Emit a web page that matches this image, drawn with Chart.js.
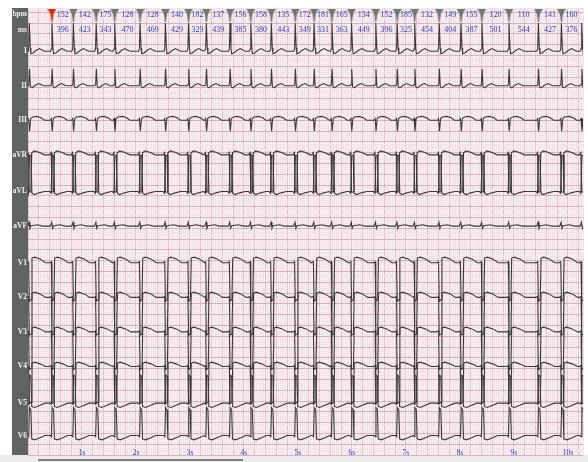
<!DOCTYPE html>
<html>
<head>
<meta charset="utf-8">
<script src="https://cdn.jsdelivr.net/npm/chart.js@4.4.1/dist/chart.umd.min.js"></script>
<style>
html,body{margin:0;padding:0;background:#fff;}
canvas{display:block;}
</style>
</head>
<body>
<canvas id="ecg" width="588" height="462"></canvas>
<script>
// heart rate and RR interval shown between the beat markers
var bpm  = [152,142,175,128,128,140,182,137,156,158,135,172,181,165,134,152,185,132,149,155,120,110,141,160];
var rrMs = [396,423,343,470,469,429,329,439,385,380,443,349,331,363,449,396,325,454,404,387,501,544,427,376];
var firstMarkSec = 0.444;   // first (red) marker
var beatBeforeMs = 420;     // unlabelled beat at the left edge
var stripSec = 10.28;

var leadNames = ['I','II','III','aVR','aVL','aVF','V1','V2','V3','V4','V5','V6'];

// one complex per lead: [seconds from R, mV]
var cxI   = [[-0.03,0],[-0.012,0.1],[0,1.3],[0.018,0.15],[0.03,-0.12],[0.07,-0.08],[0.13,0.04],[0.19,0.12],[0.25,0.03],[0.29,0]];
var cxII  = [[-0.03,0],[-0.01,0.05],[0.003,0.78],[0.02,-0.05],[0.05,-0.1],[0.11,0.02],[0.18,0.1],[0.26,0]];
var cxIII = [[-0.03,0],[-0.012,0.08],[0.005,-0.5],[0.025,0.08],[0.06,0.15],[0.14,0.18],[0.22,0.12],[0.28,0]];
var cxAVR = [[-0.04,0],[-0.015,0.1],[0,-1.72],[0.03,-1.72],[0.045,0.1],[0.09,0.18],[0.18,0.12],[0.28,0]];
var cxAVL = [[-0.04,0],[-0.015,-0.08],[0.003,1.68],[0.03,1.68],[0.048,-0.08],[0.09,-0.14],[0.18,-0.06],[0.28,0]];
var cxAVF = [[-0.03,0],[-0.005,0.18],[0.012,-0.1],[0.03,0.02],[0.15,0.06],[0.25,0]];
var cxV1  = [[-0.04,0],[-0.012,0.05],[0,-1.78],[0.035,-1.7],[0.05,0.22],[0.1,0.26],[0.2,0.18],[0.3,0]];
var cxV2  = [[-0.04,0],[-0.012,0.05],[0,-1.75],[0.035,-1.7],[0.05,0.2],[0.1,0.24],[0.2,0.16],[0.3,0]];
var cxV3  = [[-0.04,0],[-0.012,0.05],[0,-1.75],[0.035,-1.68],[0.05,0.18],[0.1,0.22],[0.2,0.14],[0.3,0]];
var cxV4  = [[-0.04,0],[-0.012,0.05],[0,-1.72],[0.035,-1.65],[0.05,0.15],[0.1,0.2],[0.2,0.12],[0.3,0]];
var cxV5  = [[-0.03,0],[-0.01,-0.05],[0.003,1.3],[0.03,1.25],[0.045,-0.15],[0.1,-0.2],[0.2,-0.1],[0.29,0]];
var cxV6  = [[-0.03,0],[-0.01,-0.05],[0.003,1.3],[0.03,1.2],[0.045,-0.15],[0.1,-0.2],[0.2,-0.1],[0.29,0]];
var complexes = [cxI,cxII,cxIII,cxAVR,cxAVL,cxAVF,cxV1,cxV2,cxV3,cxV4,cxV5,cxV6];

// layout: row of each lead on the mV axis
var rowMv = [18.7,17.1,15.5,13.9,12.2,10.6,8.9,7.3,5.7,4.1,2.4,0.9];
var bpmRow = 20.4, msRow = 19.7, markRow = 20.35;

// beat times
var marks = [firstMarkSec];
for (var i = 0; i < rrMs.length - 1; i++) marks.push(marks[i] + rrMs[i] / 1000);
var beats = [firstMarkSec - beatBeforeMs / 1000].concat(marks, [marks[marks.length - 1] + rrMs[rrMs.length - 1] / 1000]);

function buildLead(k) {
  var pts = [{x: 0, y: rowMv[k]}];
  beats.forEach(function(b) {
    complexes[k].forEach(function(p) {
      var x = b + p[0];
      if (x > pts[pts.length - 1].x) pts.push({x: x, y: rowMv[k] + p[1]});
    });
  });
  pts.push({x: stripSec, y: rowMv[k]});
  return pts;
}

function markerImage(col) {
  var c = document.createElement('canvas');
  c.width = 9; c.height = 13;
  var g = c.getContext('2d');
  g.fillStyle = col;
  g.beginPath();
  g.moveTo(0, 0); g.lineTo(9, 0);
  g.quadraticCurveTo(5.6, 3, 5.1, 13);
  g.lineTo(3.9, 13);
  g.quadraticCurveTo(3.4, 3, 0, 0);
  g.fill();
  return c;
}
var grayMark = markerImage('#6e7874');
var redMark = markerImage('#d1320e');

var datasets = leadNames.map(function(n, k) {
  return {
    label: n,
    data: buildLead(k),
    borderColor: '#3a3a3a',
    borderWidth: 1.1,
    pointRadius: 0,
    tension: 0,
    fill: false
  };
});
datasets.push({
  label: 'marks',
  data: marks.map(function(t) { return {x: t, y: markRow}; }),
  showLine: false,
  pointRadius: 4,
  pointStyle: marks.map(function(t, i) { return i === 0 ? redMark : grayMark; }),
  order: -1
});

var rowLabels = {};
leadNames.forEach(function(n, k) { rowLabels[Math.round(rowMv[k] * 10)] = n; });
rowLabels[Math.round(bpmRow * 10)] = 'bpm';
rowLabels[Math.round(msRow * 10)] = 'ms';

var ecgDecor = {
  id: 'ecgDecor',
  beforeDraw: function(chart) {
    var ctx = chart.ctx, a = chart.chartArea, ys = chart.scales.y;
    ctx.save();
    ctx.fillStyle = '#ffffff';
    ctx.fillRect(0, 0, chart.width, chart.height);
    ctx.fillStyle = '#ececec';
    ctx.fillRect(0, a.bottom, chart.width, chart.height - a.bottom);
    ctx.fillStyle = '#7d7d7d';
    ctx.fillRect(38, a.bottom + 4, 205, 2);
    ctx.fillStyle = '#fcf6f8';
    ctx.fillRect(a.left, a.top, a.right - a.left, a.bottom - a.top);
    ctx.fillStyle = '#5f6462';
    ctx.fillRect(ys.left, a.top, ys.right - ys.left, a.bottom - a.top);
    ctx.restore();
  },
  afterDatasetsDraw: function(chart) {
    var ctx = chart.ctx, xs = chart.scales.x, ys = chart.scales.y;
    ctx.save();
    ctx.font = '8px "Liberation Serif", "DejaVu Serif", serif';
    ctx.fillStyle = '#3040b8';
    ctx.textAlign = 'center';
    ctx.textBaseline = 'middle';
    for (var i = 0; i < rrMs.length; i++) {
      var cx = (xs.getPixelForValue(marks[i]) + xs.getPixelForValue(marks[i] + rrMs[i] / 1000)) / 2;
      ctx.fillText(String(bpm[i]), cx, ys.getPixelForValue(bpmRow));
      ctx.fillText(String(rrMs[i]), cx, ys.getPixelForValue(msRow));
    }
    ctx.restore();
  }
};

var minorCol = '#f3e2e8', majorCol = '#dcb0be';

new Chart(document.getElementById('ecg'), {
  type: 'line',
  data: {datasets: datasets},
  options: {
    responsive: false,
    animation: false,
    events: [],
    layout: {padding: {left: 12, top: 8, right: 5, bottom: 7}},
    plugins: {legend: {display: false}, tooltip: {enabled: false}},
    scales: {
      x: {
        type: 'linear',
        min: 0,
        max: stripSec,
        border: {display: false},
        grid: {
          drawTicks: false,
          lineWidth: 1,
          color: function(c) { return Math.round(c.tick.value / 0.04) % 5 === 0 ? majorCol : minorCol; }
        },
        ticks: {
          stepSize: 0.04,
          autoSkip: false,
          mirror: true,
          maxRotation: 0,
          minRotation: 0,
          padding: -3,
          color: '#3040b8',
          font: {family: '"Liberation Serif", "DejaVu Serif", serif', size: 7.5},
          callback: function(v) {
            var r = Math.round(v / 0.04);
            return (r > 0 && r % 25 === 0) ? (r / 25) + 's' : '';
          }
        },
        afterFit: function(s) { s.height = 0; }
      },
      y: {
        type: 'linear',
        min: 0,
        max: 20.7,
        border: {display: false},
        grid: {
          drawTicks: false,
          lineWidth: 1,
          color: function(c) { return Math.round(c.tick.value / 0.1) % 5 === 0 ? majorCol : minorCol; }
        },
        ticks: {
          stepSize: 0.1,
          autoSkip: false,
          padding: 1,
          color: '#eeeeee',
          font: {family: '"Liberation Serif", "DejaVu Serif", serif', size: 7.5, weight: 'bold'},
          callback: function(v) { return rowLabels[Math.round(v * 10)] || ''; }
        },
        afterFit: function(s) { s.width = 16; }
      }
    }
  },
  plugins: [ecgDecor]
});
</script>
</body>
</html>
